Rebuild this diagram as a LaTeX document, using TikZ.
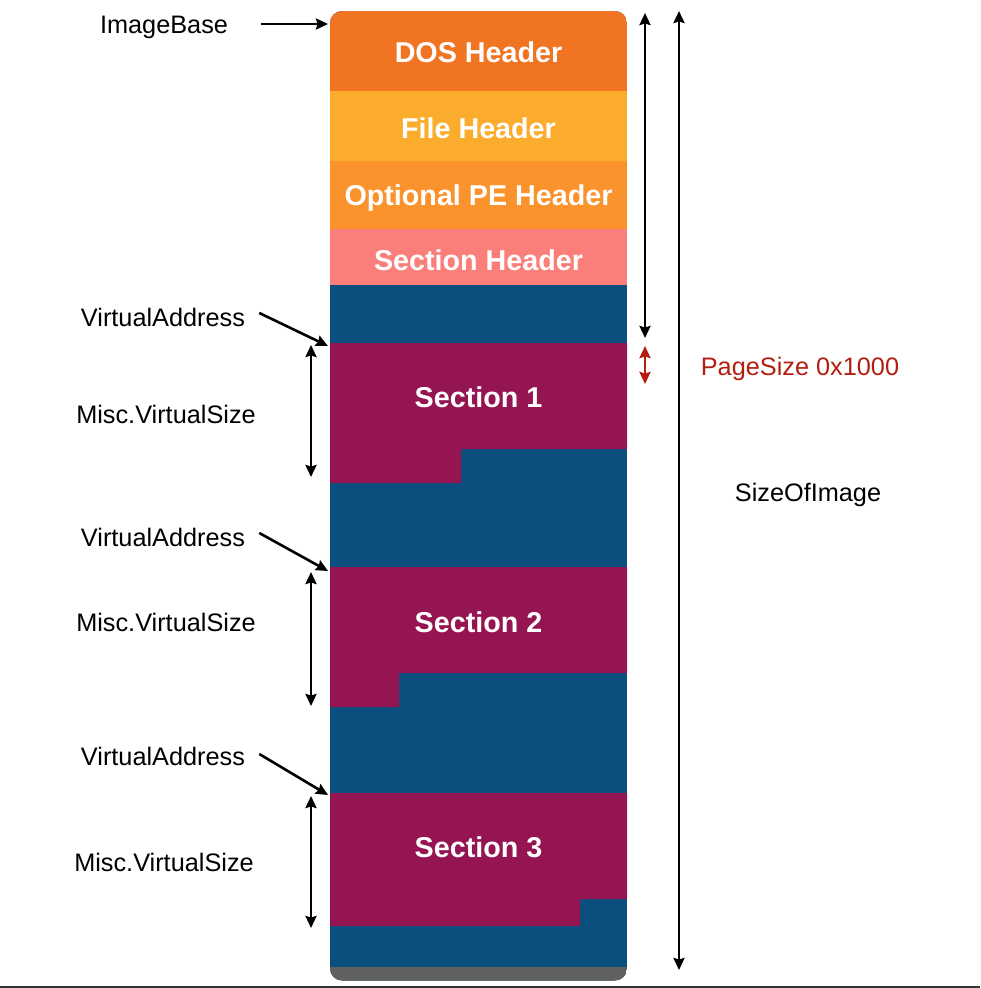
\documentclass[tikz,border=0pt]{standalone}
\usepackage{fontspec}
\setmainfont{Liberation Sans}
\usetikzlibrary{arrows.meta}

\definecolor{dosclr}{RGB}{240,116,34}
\definecolor{fileclr}{RGB}{251,172,45}
\definecolor{optclr}{RGB}{250,147,43}
\definecolor{sechdrclr}{RGB}{250,127,122}
\definecolor{gapclr}{RGB}{11,79,126}
\definecolor{secclr}{RGB}{149,21,83}
\definecolor{endclr}{RGB}{96,96,96}
\definecolor{pageclr}{RGB}{178,30,16}

\tikzstyle{lbl}=[anchor=base, inner sep=0pt, font=\fontsize{25.3}{30}\selectfont]
\tikzstyle{band}=[anchor=base, inner sep=0pt, text=white, font=\fontsize{28.7}{34}\selectfont\bfseries]
\tikzstyle{ptr}=[line width=2.6pt, -{Stealth[length=12pt, width=11pt, inset=1.5pt]}]
\tikzstyle{dim}=[line width=2.6pt, {Stealth[length=12pt, width=11pt, inset=1.5pt]}-{Stealth[length=12pt, width=11pt, inset=1.5pt]}]

\begin{document}
\begin{tikzpicture}[x=1pt, y=-1pt]
\useasboundingbox (0,0) rectangle (980,988);
% the image column
\begin{scope}
\clip[rounded corners=12pt] (330,11) rectangle (627,980.5);
\fill[gapclr] (330,11) rectangle (627,981);
\fill[dosclr] (330,11) rectangle (627,91);
\fill[fileclr] (330,91) rectangle (627,161);
\fill[optclr] (330,161) rectangle (627,229);
\fill[sechdrclr] (330,229) rectangle (627,285);
\fill[secclr] (330,343) -- (627,343) -- (627,449) -- (461,449) -- (461,483) -- (330,483) -- cycle;
\fill[secclr] (330,567) -- (627,567) -- (627,673) -- (399,673) -- (399,707) -- (330,707) -- cycle;
\fill[secclr] (330,793) -- (627,793) -- (627,899) -- (580,899) -- (580,926) -- (330,926) -- cycle;
\fill[endclr] (330,967) rectangle (627,981);
\end{scope}
%
\draw (478.5,62) node[band](dos){DOS Header};
\draw (478.5,138) node[band](filehdr){File Header};
\draw (478.5,205) node[band](opthdr){Optional PE Header};
\draw (478.5,270) node[band](sechdr){Section Header};
\draw (478.5,407) node[band](sec1){Section 1};
\draw (478.5,632) node[band](sec2){Section 2};
\draw (478.5,857) node[band](sec3){Section 3};
%
\draw (164,33) node[lbl](imgbase){ImageBase};
\coordinate (base) at (328,24);
\draw[ptr, shorten <=33pt] (imgbase.east |- base) -- (base);
%
\draw (163,326) node[lbl](va1){VirtualAddress};
\draw (163,546) node[lbl](va2){VirtualAddress};
\draw (163,765) node[lbl](va3){VirtualAddress};
\coordinate (va1p) at (328,346); \coordinate (va2p) at (328,571); \coordinate (va3p) at (328,795);
\draw[ptr] ([shift={(14,-4)}]va1.east) -- (va1p);
\draw[ptr] ([shift={(14,-4)}]va2.east) -- (va2p);
\draw[ptr] ([shift={(14,-2)}]va3.east) -- (va3p);
%
\draw (166,423) node[lbl](vs1){Misc.VirtualSize};
\draw (166,631) node[lbl](vs2){Misc.VirtualSize};
\draw (164,871) node[lbl](vs3){Misc.VirtualSize};
\coordinate (vs1t) at (311,345); \coordinate (vs1b) at (311,477);
\coordinate (vs2t) at (311,572); \coordinate (vs2b) at (311,706);
\coordinate (vs3t) at (311,796); \coordinate (vs3b) at (311,928);
\draw[dim] (vs1t) -- (vs1b); \draw[dim] (vs2t) -- (vs2b); \draw[dim] (vs3t) -- (vs3b);
%
\coordinate (hdrt) at (645,13); \coordinate (hdrb) at (645,338);
\draw[dim] (hdrt) -- (hdrb);
\coordinate (pgt) at (645,346); \coordinate (pgb) at (645,384);
\draw[dim, pageclr] (pgt) -- (pgb);
\draw (800,375) node[lbl, text=pageclr](pagesize){PageSize 0x1000};
%
\coordinate (imgt) at (679,11); \coordinate (imgb) at (679,970);
\draw[dim] (imgt) -- (imgb);
\draw (808,501) node[lbl](sizeofimg){SizeOfImage};
%
\draw[line width=2pt, black!80] (0,986.8) -- (980,986.8); % bottom edge
\end{tikzpicture}
\end{document}
